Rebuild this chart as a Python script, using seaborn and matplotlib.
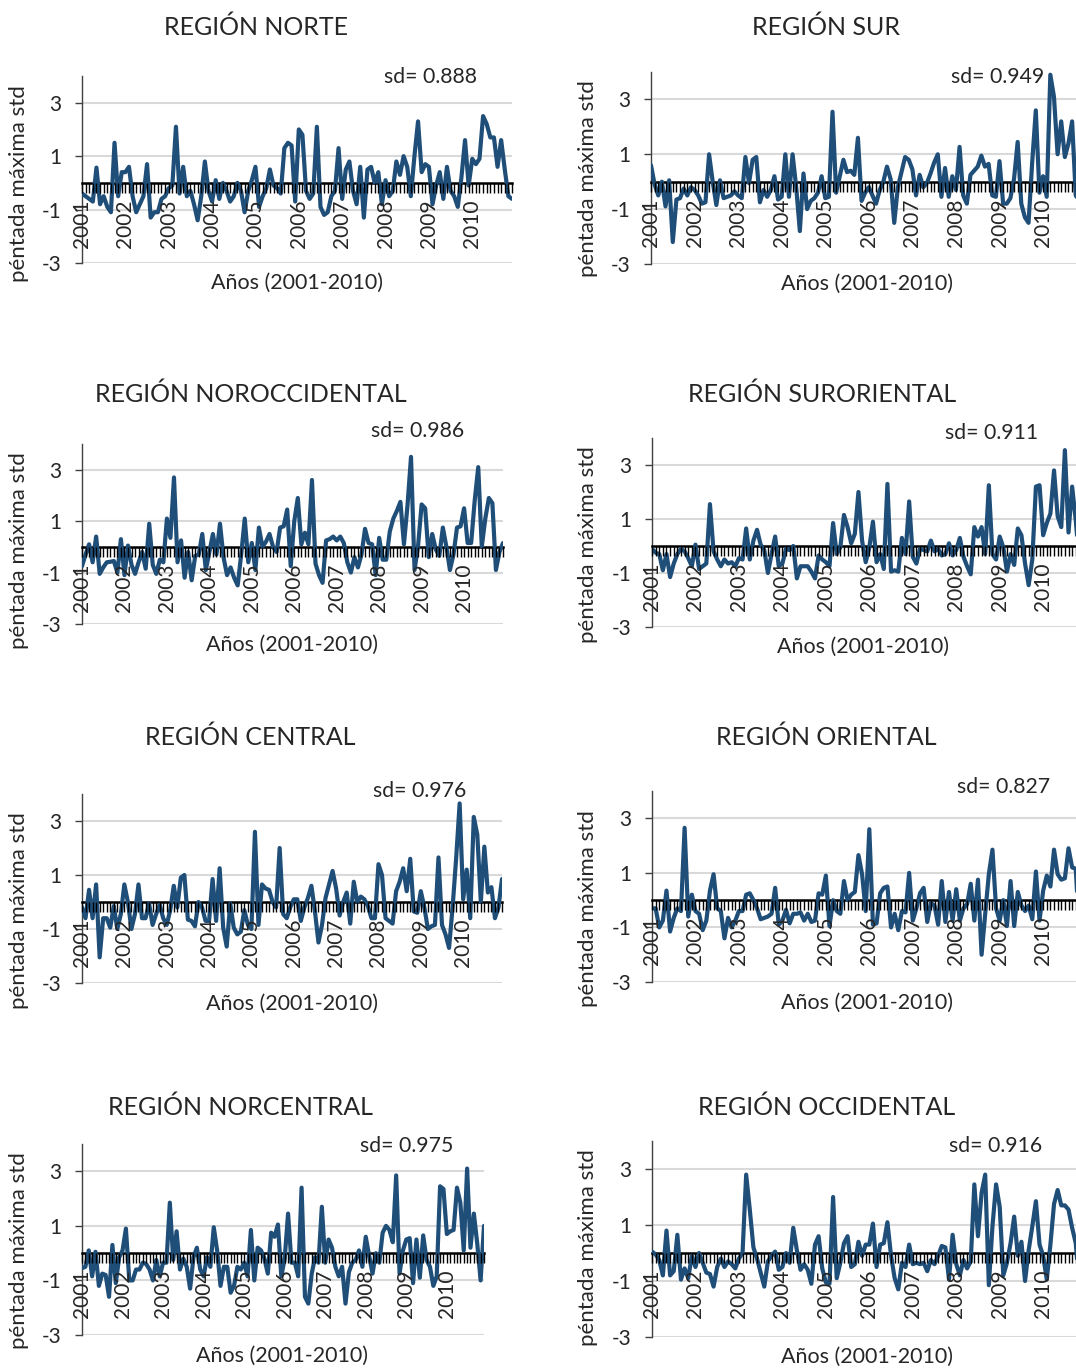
import seaborn as sns
import matplotlib.pyplot as plt
import pandas as pd
import numpy as np

# -----------------------------
# Data (12 values per year, 2001-2010)
# -----------------------------
regions = ["REGIÓN NORTE", "REGIÓN SUR", "REGIÓN NOROCCIDENTAL", "REGIÓN SURORIENTAL",
           "REGIÓN CENTRAL", "REGIÓN ORIENTAL", "REGIÓN NORCENTRAL", "REGIÓN OCCIDENTAL"]
sd_values = [0.888, 0.949, 0.986, 0.911, 0.976, 0.827, 0.975, 0.916]
years = [str(y) for y in range(2001, 2011)]

norte = [-0.4, -0.5, -0.6, -0.7, 0.57, -0.8, -0.5, -0.9, -1.1, 1.5, -0.5, 0.4,
         0.4, 0.6, -0.5, -1.1, -0.8, -0.5, 0.7, -1.3, -1.1, -1.1, -0.6, -0.5,
         -0.2, -0.1, 2.1, -0.4, 0.6, -0.5, -0.3, -0.8, -1.4, -0.5, 0.8, -0.3,
         -0.7, 0.1, -0.6, 0.0, -0.3, -0.7, -0.5, 0.0, -0.3, -1.1, -0.3, 0.1,
         0.6, -0.9, -0.5, -0.2, 0.5, -0.1, -0.2, -0.4, 1.3, 1.5, 1.4, -0.7,
         2.0, 1.8, -0.3, -0.6, -0.4, 2.1, -0.9, -1.2, -1.1, -0.5, -0.3, 1.3,
         -0.6, 0.5, 0.8, -0.3, -0.8, 0.6, -1.3, 0.5, 0.6, 0.0, 0.4, -0.8,
         0.1, -0.5, -0.3, 0.8, 0.3, 1.0, 0.6, -0.5, 1.0, 2.3, 0.4, 0.7,
         0.6, -0.8, -0.1, 0.4, -0.6, 0.6, -0.3, -0.5, -0.9, 0.2, 1.6, -0.1,
         0.9, 0.7, 0.9, 2.5, 2.2, 1.7, 1.7, 0.6, 1.6, 0.5, -0.5, -0.6]

sur = [0.6, -0.1, -0.5, 0.0, -0.9, 0.05, -2.2, -0.65, -0.6, -0.25, -0.5, -0.2,
       -0.3, -0.5, -0.8, -0.75, 1.0, 0.0, -0.85, 0.05, -0.6, -0.55, -0.5, -0.35,
       -0.5, -0.6, 0.9, -0.05, 0.8, 0.9, -0.75, -0.3, -0.55, -0.3, 0.2, -0.65,
       -0.55, 1.0, -0.55, 1.0, -0.2, -1.8, 0.3, -1.0, -0.7, -0.6, -0.4, 0.2,
       -0.6, -0.55, 2.55, -0.4, 0.2, 0.8, 0.35, 0.4, 0.25, 1.6, -0.7, -0.4,
       -0.2, -0.5, -0.8, -0.3, 0.0, 0.55, 0.1, -1.5, -0.2, 0.35, 0.9, 0.8,
       0.45, -0.5, 0.25, -0.2, -0.05, 0.3, 0.7, 1.0, -0.55, 0.5, -0.55, 0.2,
       -0.3, 1.27, -0.5, -0.8, 0.25, 0.4, 0.55, 0.95, 0.55, 0.65, -0.5, -0.55,
       0.75, -0.8, -0.8, -0.6, 0.1, 1.45, -0.8, -1.3, -1.5, 0.7, 2.6, -0.4,
       0.2, -0.55, 3.9, 3.1, 1.0, 2.2, 0.9, 1.4, 2.2, -0.5, -0.7, -0.3]

noroccidental = [-0.75, -0.3, 0.1, -0.6, 0.4, -1.05, -0.8, -0.6, -0.58, -0.55, -1.0, 0.3,
                 -1.1, 0.05, -0.7, -1.05, -0.6, -0.2, -0.85, 0.9, -0.7, -1.05, -0.5, -0.6,
                 1.1, 0.35, 2.7, -0.6, 0.25, -1.2, -0.2, -1.3, -0.35, -0.3, 0.5, -0.9,
                 -0.2, 0.5, -0.3, 0.9, -0.4, -1.1, -0.8, -1.2, -1.5, -0.3, 1.1, -0.6,
                 0.15, -0.9, 0.75, 0.0, 0.2, 0.5, 0.0, -0.2, 0.75, 0.8, 1.45, -0.75,
                 1.0, 1.9, 0.1, 0.55, 0.1, 2.6, -0.65, -1.1, -1.4, 0.25, 0.3, 0.4,
                 0.25, 0.4, 0.15, -0.6, -1.0, -0.4, -0.8, -0.3, 0.7, 0.15, 0.1, -1.1,
                 0.35, -0.5, -0.5, 0.6, 1.1, 1.4, 1.75, 0.1, 1.6, 3.5, -0.9, 0.05,
                 1.65, 1.5, -0.4, 0.5, -0.1, -0.35, 0.75, 0.0, -0.9, -0.3, 0.75, 0.8,
                 1.5, 0.15, 0.15, 1.8, 3.1, 0.0, 1.1, 1.9, 1.7, -0.9, -0.2, 0.15]

suroriental = [-0.1, -0.25, -0.3, -0.9, -0.3, -1.15, -0.65, -0.3, -0.1, -0.2, -0.45, -0.75,
               0.05, -0.85, -0.75, -0.65, 1.55, -0.2, -0.5, -0.75, -0.5, -0.65, -0.6, -0.75,
               -0.45, -0.5, 0.65, -0.5, 0.2, 0.6, 0.05, -0.15, -1.0, -0.3, 0.35, -0.75,
               -0.65, -0.1, -0.15, 0.0, -1.2, -0.75, -0.75, -0.75, -0.95, -1.2, -0.35, -0.5,
               -0.6, -0.75, 0.85, -0.3, -0.05, 1.15, 0.7, 0.1, 0.45, 2.0, 0.2, -0.6,
               -0.05, 0.9, -0.6, -0.3, -0.85, 2.3, -0.95, -0.9, -0.95, 0.3, -0.3, 1.65,
               -0.4, -0.65, -0.1, -0.15, -0.2, 0.2, -0.2, -0.1, -0.35, -0.3, 0.1, -0.35,
               -0.15, 0.3, -0.4, -0.75, -1.05, 0.7, 0.35, 0.7, -0.3, 2.25, -0.3, -0.5,
               0.35, -0.05, -0.95, -0.3, -0.7, 0.65, 0.4, -0.65, -1.45, -0.5, 2.2, 2.25,
               0.4, 0.85, 1.2, 2.8, 1.1, 0.7, 3.55, 0.5, 2.2, 0.95, -0.65, 0.15]

central = [-0.2, -0.6, 0.45, -0.6, 0.65, -2.05, -0.6, -0.6, -0.95, -0.15, -1.0, -0.45,
           0.65, 0.0, -1.0, -0.45, 0.65, -0.6, -0.6, -0.05, -0.85, -0.45, -0.1, -0.6,
           -0.85, -0.3, 0.6, -0.2, 0.9, 1.0, -0.65, -0.7, -0.9, 0.0, -0.2, -0.7,
           -0.7, 0.85, -0.7, 1.25, -0.95, -1.65, -0.05, -0.95, -1.2, -1.1, -0.3, -0.85,
           -1.0, 2.6, -0.85, 0.65, 0.5, 0.45, 0.0, -0.2, 2.0, -0.45, -0.6, -0.2,
           0.1, 0.1, -0.7, -0.2, 0.15, 0.6, -0.35, -1.5, -0.85, 0.15, 0.65, 1.15,
           0.5, -0.5, 0.0, 0.35, -0.8, 0.75, 0.0, 0.2, 0.1, -0.15, -0.6, -0.6,
           1.4, 1.0, -0.6, -0.7, -0.8, 0.4, 0.75, 1.25, 0.4, 1.6, -0.35, -0.4,
           0.4, -0.2, -1.0, -0.9, -0.85, 1.65, -0.85, -1.2, -1.7, -0.2, 1.6, 3.65,
           0.1, 1.2, -0.6, 3.15, 2.5, 0.0, 2.05, 0.35, 0.55, -0.6, -0.2, 0.85]

oriental = [-0.3, -0.3, -1.0, -0.75, 0.35, -1.15, -0.65, -0.3, -0.4, 2.65, -0.6, 0.2,
            -0.4, -0.5, -1.1, -0.75, 0.35, 0.95, -0.3, -0.4, -1.4, -0.65, -1.0, -0.75,
            -0.4, -0.4, 0.2, 0.25, 0.0, -0.3, -0.7, -0.65, -0.6, -0.5, 0.45, -0.9,
            -0.75, -0.35, -0.85, -0.5, -0.5, -0.45, -0.75, -0.5, -0.8, -0.75, 0.25, 0.2,
            0.9, -0.95, 0.0, -0.4, -0.5, 0.7, 0.0, 0.2, 0.3, 1.65, 0.95, -0.4,
            2.6, -0.9, -0.85, 0.25, 0.45, 0.5, -1.0, -0.5, -1.1, -0.4, -0.45, 1.0,
            -0.75, -0.3, 0.25, 0.45, -0.8, -0.1, -0.2, -0.9, 0.7, -0.8, 0.3, -0.75,
            0.4, -0.75, -0.3, -0.15, 0.6, -0.75, 0.75, -2.0, -0.5, 0.95, 1.85, -0.3,
            -0.75, 0.0, -0.95, 0.7, -0.95, 0.3, -0.2, -0.4, -0.2, -0.7, 1.05, -0.75,
            0.35, 0.9, 0.5, 1.85, 0.95, 0.75, 0.8, 1.9, 1.2, 1.15, -1.25, -1.3]

norcentral = [-0.55, -0.5, 0.1, -0.85, 0.05, -1.2, -0.75, -0.8, -1.6, 0.3, -1.1, -0.15,
              0.1, 0.9, -1.0, -1.0, -0.6, -0.6, -0.35, -0.4, -0.6, -1.0, -0.25, -0.85,
              -0.35, -0.35, 1.85, -0.25, 0.8, -0.6, -0.2, -0.5, -1.3, -0.15, 0.2, -0.6,
              -0.85, -0.15, -0.5, 0.95, 0.1, -1.2, -0.5, -0.5, -1.45, -1.2, -0.5, -0.6,
              -0.35, -0.85, 0.85, -1.0, 0.2, 0.1, -0.2, -0.75, 0.75, 0.6, 1.05, -0.85,
              -0.2, 1.45, -0.35, -0.35, -0.85, 2.4, -1.6, -1.85, -0.75, -0.15, -0.35, 1.7,
              -0.35, 0.5, 0.2, -0.5, -0.85, -0.5, -1.85, -0.7, -0.35, -0.25, 0.1, -0.5,
              0.6, -0.1, -0.75, 0.0, -0.35, 0.75, 1.0, 0.85, 0.4, 2.85, -0.75, 0.1,
              0.5, 0.55, -1.1, 0.5, -0.9, 0.65, -0.25, -0.5, -1.2, -0.85, 2.45, 2.35,
              0.7, 0.8, 0.85, 2.4, 1.85, 0.1, 3.1, 0.2, 1.45, 0.35, -1.0, 1.0]

occidental = [0.05, -0.05, -0.25, -0.8, 0.8, -0.8, -0.65, 0.65, -0.95, -0.55, -0.9, -0.1,
              -0.5, 0.0, -0.35, -0.7, -0.75, -1.2, -0.5, -0.2, -0.5, -0.3, -0.4, -0.55,
              -0.2, 0.0, 2.8, 1.55, 0.2, -0.2, -0.7, -1.2, -0.3, -0.1, 0.05, -0.6,
              -0.5, 0.0, -0.35, 0.9, 0.1, -0.6, -0.4, -0.6, -1.1, 0.3, 0.6, -0.55,
              -1.05, -1.1, 2.0, -0.9, -0.35, 0.35, 0.6, -0.5, -0.4, 0.4, -0.1, 0.3,
              0.3, 1.05, -0.5, 0.3, 0.35, 1.1, -0.1, -0.9, -1.3, -0.35, -0.5, 0.3,
              -0.4, -0.35, -0.4, -0.35, -0.65, -0.25, -0.4, -0.1, 0.25, 0.2, -0.95, 0.65,
              -0.4, -0.8, -0.25, -0.55, -0.3, 2.45, 0.6, 2.15, 2.8, -1.15, 0.95, 2.45,
              1.65, -0.8, -0.35, 0.35, 1.3, -0.1, 0.4, -1.0, 0.1, 0.95, 1.85, 0.3,
              -0.1, -0.95, 0.3, 1.75, 2.25, 1.7, 1.7, 1.55, 0.9, 0.35, -1.25, -1.3]

series = [norte, sur, noroccidental, suroriental, central, oriental, norcentral, occidental]

# -----------------------------
# Layout (pixels of the 1076x1368 picture)
# -----------------------------
W, H = 1076, 1368
# left, right, y pixel of value 4, y pixel of value -3
boxes = [(82, 512, 76, 263), (651, 1083, 72, 264),
         (82, 503, 444, 624), (652, 1083, 438, 627),
         (82, 502, 794, 983), (652, 1083, 791, 982),
         (82, 484, 1144, 1335), (652, 1083, 1141, 1337)]
title_pos = [(256, 27), (826, 27), (251, 394), (822, 394),
             (250, 737), (826, 737), (241, 1107), (827, 1107)]
sd_pos = [(430, 77), (998, 77), (418, 431), (992, 433),
          (420, 791), (1004, 787), (407, 1146), (996, 1146)]
xlab_pos = [(297, 283), (867, 284), (292, 645), (863, 647),
            (292, 1004), (867, 1003), (282, 1356), (867, 1357)]
ylab_pos = [(19, 184), (588, 179), (19, 551), (588, 545),
            (19, 911), (588, 909), (19, 1251), (588, 1248)]

line_color = "#1f4e79"

sns.set_style("white")
plt.rcParams["font.family"] = ["Lato", "DejaVu Sans"]

fig = plt.figure(figsize=(W / 100, H / 100), dpi=100)


def fx(x):
    return x / W


def fy(y):
    return 1 - y / H


for i, vals in enumerate(series):
    l, r, t, b = boxes[i]
    ax = fig.add_axes([fx(l), fy(b), (r - l) / W, (b - t) / H])
    df = pd.DataFrame({"idx": np.arange(len(vals)), "valor": vals})
    sns.lineplot(data=df, x="idx", y="valor", ax=ax, color=line_color,
                 linewidth=3.0, zorder=4)

    ax.set_xlim(0, len(vals) - 1)
    ax.set_ylim(-3, 4)
    ax.set_yticks([-3, -1, 1, 3])
    ax.set_yticklabels(["-3", "-1", "1", "3"])
    ax.yaxis.grid(True, color="#d9d9d9", linewidth=1.5)
    ax.set_axisbelow(True)

    ax.set_xticks(range(0, len(vals), 12))
    ax.set_xticklabels(years)
    ax.set_xticks(range(len(vals)), minor=True)
    ax.tick_params(axis="x", which="both", bottom=True, length=7, width=1,
                   color="black", direction="out")
    ax.tick_params(axis="x", which="major", labelrotation=90, labelsize=15, pad=5)
    ax.tick_params(axis="y", left=True, length=5, width=1, color="#404040",
                   labelsize=15, pad=10)
    # year labels and tick comb drawn above the series, as in the original
    ax.xaxis.set_zorder(5)

    for s in ["top", "right"]:
        ax.spines[s].set_visible(False)
    ax.spines["bottom"].set_position(("data", 0))
    ax.spines["bottom"].set_linewidth(1.8)
    ax.spines["bottom"].set_color("black")
    ax.spines["bottom"].set_zorder(3)
    ax.spines["left"].set_color("#404040")
    ax.spines["left"].set_linewidth(1)
    ax.set_xlabel("")
    ax.set_ylabel("")

    fig.text(fx(title_pos[i][0]), fy(title_pos[i][1]), regions[i],
             ha="center", va="center", fontsize=18)
    fig.text(fx(sd_pos[i][0]), fy(sd_pos[i][1]), f"sd= {sd_values[i]:.3f}",
             ha="center", va="center", fontsize=15.3)
    fig.text(fx(xlab_pos[i][0]), fy(xlab_pos[i][1]), "Años (2001-2010)",
             ha="center", va="center", fontsize=15.5)
    fig.text(fx(ylab_pos[i][0]), fy(ylab_pos[i][1]), "péntada máxima std",
             ha="center", va="center", rotation=90, fontsize=16)

fig.savefig("out.png", dpi=100)
plt.close(fig)
